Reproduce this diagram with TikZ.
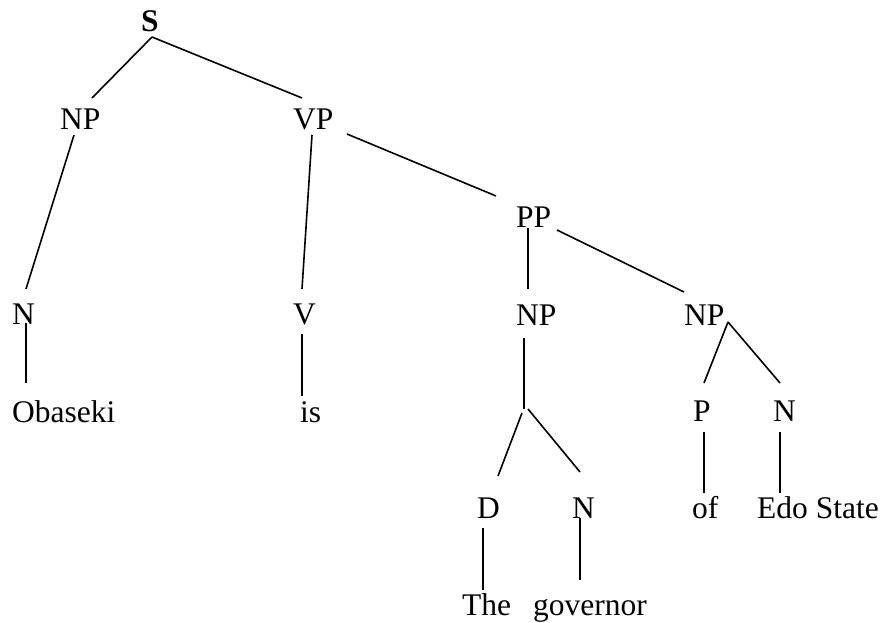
\documentclass[tikz,border=0pt]{standalone}
\usepackage{fontspec}
\setmainfont{Liberation Serif}
\begin{document}
\begin{tikzpicture}[x=1pt,y=-1pt,
  lbl/.style={anchor=base west,inner sep=0pt,font=\fontsize{31.5}{36}\selectfont},
  edge/.style={draw=black,line width=1.6pt}]
\useasboundingbox (0,0) rectangle (883,623);
% labels
\node[lbl,font=\fontsize{31.5}{36}\selectfont\bfseries] (S) at (141,32) {S};
\node[lbl] (NPa) at (60,129) {NP};
\node[lbl] (VP) at (293,129) {VP};
\node[lbl] (Na) at (12,324) {N};
\node[lbl] (V) at (293,324) {V};
\node[lbl] (Obaseki) at (12,422) {Obaseki};
\node[lbl] (is) at (300,422) {is};
\node[lbl] (PP) at (516,227) {PP};
\node[lbl] (NPb) at (516,325) {NP};
\node[lbl] (NPc) at (684,325) {NP};
\node[lbl] (P) at (693,421) {P};
\node[lbl] (Nc) at (773,421) {N};
\node[lbl] (D) at (477,518) {D};
\node[lbl] (Nb) at (572,518) {N};
\node[lbl] (of) at (692,518) {of};
\node[lbl] (Edo) at (757,518) {Edo State};
\node[lbl] (The) at (462,615) {The};
\node[lbl] (gov) at (533,615) {governor};
% attachment points
\coordinate (S-s) at (152,37);
\coordinate (NPa-n) at (92,98);
\coordinate (VP-n) at (302,98);
\coordinate (NPa-s) at (74,135);
\coordinate (Na-n) at (26,289);
\coordinate (VP-s) at (312,135);
\coordinate (V-n) at (302,289);
\coordinate (VP-e) at (347,134);
\coordinate (PP-n) at (496,196);
\coordinate (Na-s) at (26,323);
\coordinate (Ob-n) at (26,383);
\coordinate (V-s) at (302,334);
\coordinate (is-n) at (302,396);
\coordinate (PP-s) at (528,228);
\coordinate (NPb-n) at (528,289);
\coordinate (PP-e) at (557,230);
\coordinate (NPc-n) at (684,292);
\coordinate (NPb-s) at (524,338);
\coordinate (J) at (524,409);
\coordinate (Ja) at (522,413);
\coordinate (Jb) at (528,409);
\coordinate (D-n) at (498,476);
\coordinate (Nb-n) at (580,472);
\coordinate (NPc-s) at (728,322);
\coordinate (P-n) at (704,383);
\coordinate (Nc-n) at (780,383);
\coordinate (P-s) at (704,432);
\coordinate (of-n) at (704,493);
\coordinate (Nc-s) at (780,432);
\coordinate (Edo-n) at (780,493);
\coordinate (D-s) at (483,528);
\coordinate (The-n) at (483,590);
\coordinate (Nb-s) at (580,518);
\coordinate (gov-n) at (580,580);
% connectors
\draw[edge] (S-s) -- (NPa-n);
\draw[edge] (S-s) -- (VP-n);
\draw[edge] (NPa-s) -- (Na-n);
\draw[edge] (VP-s) -- (V-n);
\draw[edge] (VP-e) -- (PP-n);
\draw[edge] (Na-s) -- (Ob-n);
\draw[edge] (V-s) -- (is-n);
\draw[edge] (PP-s) -- (NPb-n);
\draw[edge] (PP-e) -- (NPc-n);
\draw[edge] (NPb-s) -- (J);
\draw[edge] (Ja) -- (D-n);
\draw[edge] (Jb) -- (Nb-n);
\draw[edge] (NPc-s) -- (P-n);
\draw[edge] (NPc-s) -- (Nc-n);
\draw[edge] (P-s) -- (of-n);
\draw[edge] (Nc-s) -- (Edo-n);
\draw[edge] (D-s) -- (The-n);
\draw[edge] (Nb-s) -- (gov-n);
\end{tikzpicture}
\end{document}
